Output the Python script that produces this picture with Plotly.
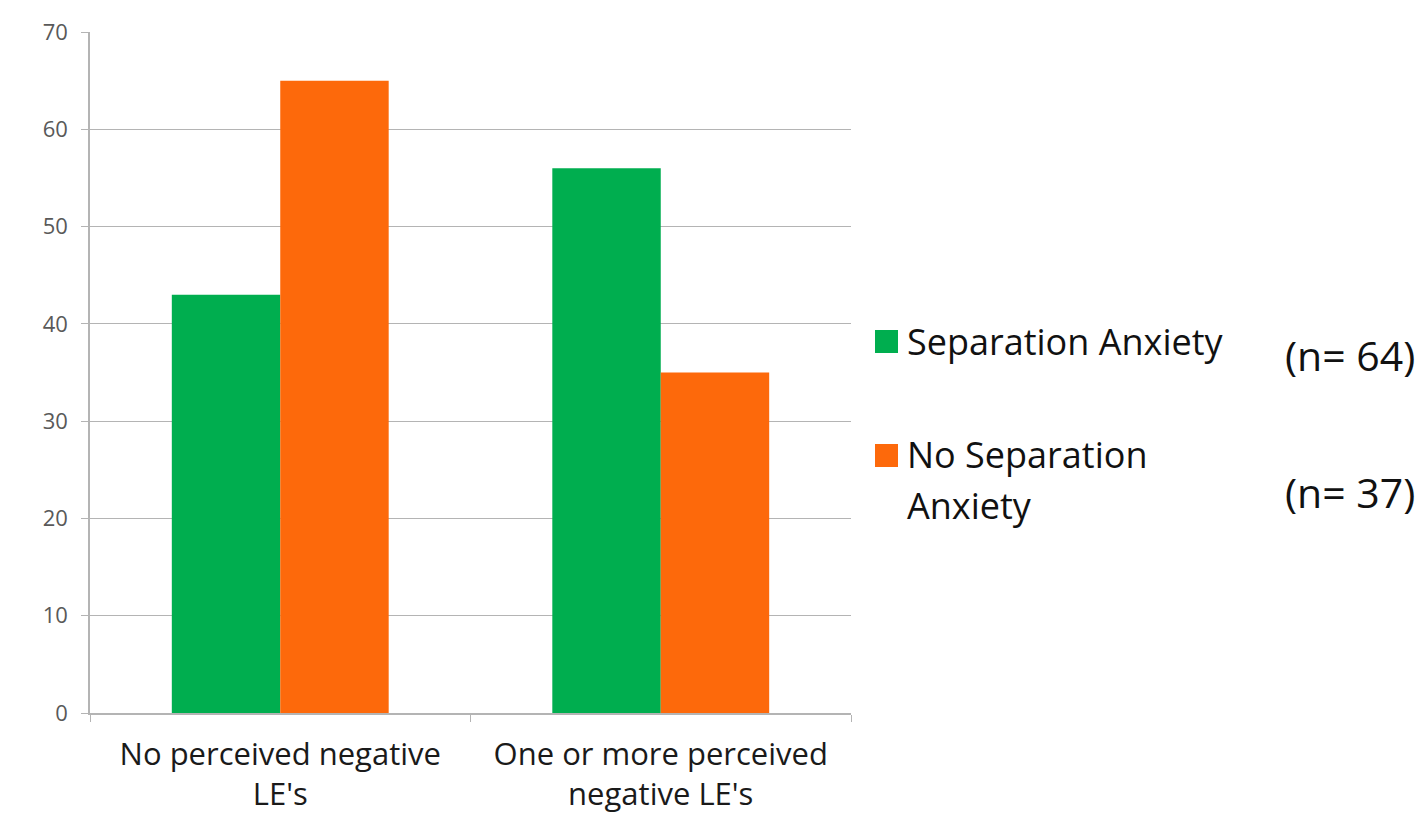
import plotly.graph_objects as go

# Data
categories = ["No perceived negative<br>LE's", "One or more perceived<br>negative LE's"]
series_names = ["Separation Anxiety", "No Separation<br>Anxiety"]
series_values = [
    [43, 56],
    [65, 35],
]
series_n = ["(n= 64)", "(n= 37)"]
series_colors = ["#00ae4f", "#fd690b"]
y_ticks = [0, 10, 20, 30, 40, 50, 60, 70]

FONT = "'Open Sans', Lato, sans-serif"
GRID = "#b4b4b4"

# pixel -> paper helpers for the plot area (x 90..851, y 32..713)
def px(x):
    return (x - 90) / 761

def py(y):
    return (713 - y) / 681

fig = go.Figure()
for name, vals, color in zip(series_names, series_values, series_colors):
    fig.add_trace(go.Bar(
        x=categories, y=vals, name=name,
        marker=dict(color=color, line=dict(width=0)),
        showlegend=False,
    ))

# Legend drawn on the right: colour square, wrapped name, and group size
legend_rows = [(341, 355), (455, 492)]
LINE_GAP = 50
for (ty, ny), name, n, color in zip(legend_rows, series_names, series_n, series_colors):
    fig.add_shape(type="rect", xref="paper", yref="paper",
                  x0=px(875), x1=px(898), y0=py(ty + 12), y1=py(ty - 11),
                  fillcolor=color, line=dict(width=0))
    for i, line in enumerate(name.split("<br>")):
        fig.add_annotation(xref="paper", yref="paper", x=px(905),
                           y=py(ty + i * LINE_GAP), yanchor="middle",
                           xanchor="left", text=line, showarrow=False,
                           font=dict(family=FONT, size=36, color="#111111"))
    fig.add_annotation(xref="paper", yref="paper", x=px(1283),
                       y=py(ny), xanchor="left", yanchor="middle",
                       text=n, showarrow=False,
                       font=dict(family=FONT, size=41, color="#111111"))

fig.update_layout(
    width=1426, height=818,
    margin=dict(l=90, r=575, t=32, b=105),
    paper_bgcolor="white", plot_bgcolor="white",
    barmode="group", bargap=0.43, bargroupgap=0,
    font=dict(family=FONT),
)
fig.update_xaxes(
    type="category", tickson="boundaries", ticks="outside", ticklen=7,
    tickcolor=GRID, showline=True, linecolor=GRID, linewidth=1.5,
    showgrid=False, ticklabelstandoff=13, automargin=False,
    tickfont=dict(family=FONT, size=31, color="#1a1a1a"),
)
fig.update_yaxes(
    range=[0, 70], tickvals=y_ticks, ticks="outside", ticklen=7,
    tickcolor=GRID, showline=True, linecolor=GRID, linewidth=1.5,
    showgrid=True, gridcolor=GRID, gridwidth=1.2, zeroline=False,
    ticklabelstandoff=9, automargin=False,
    tickfont=dict(family=FONT, size=22, color="#595959"),
)

fig.write_html("out.html")
